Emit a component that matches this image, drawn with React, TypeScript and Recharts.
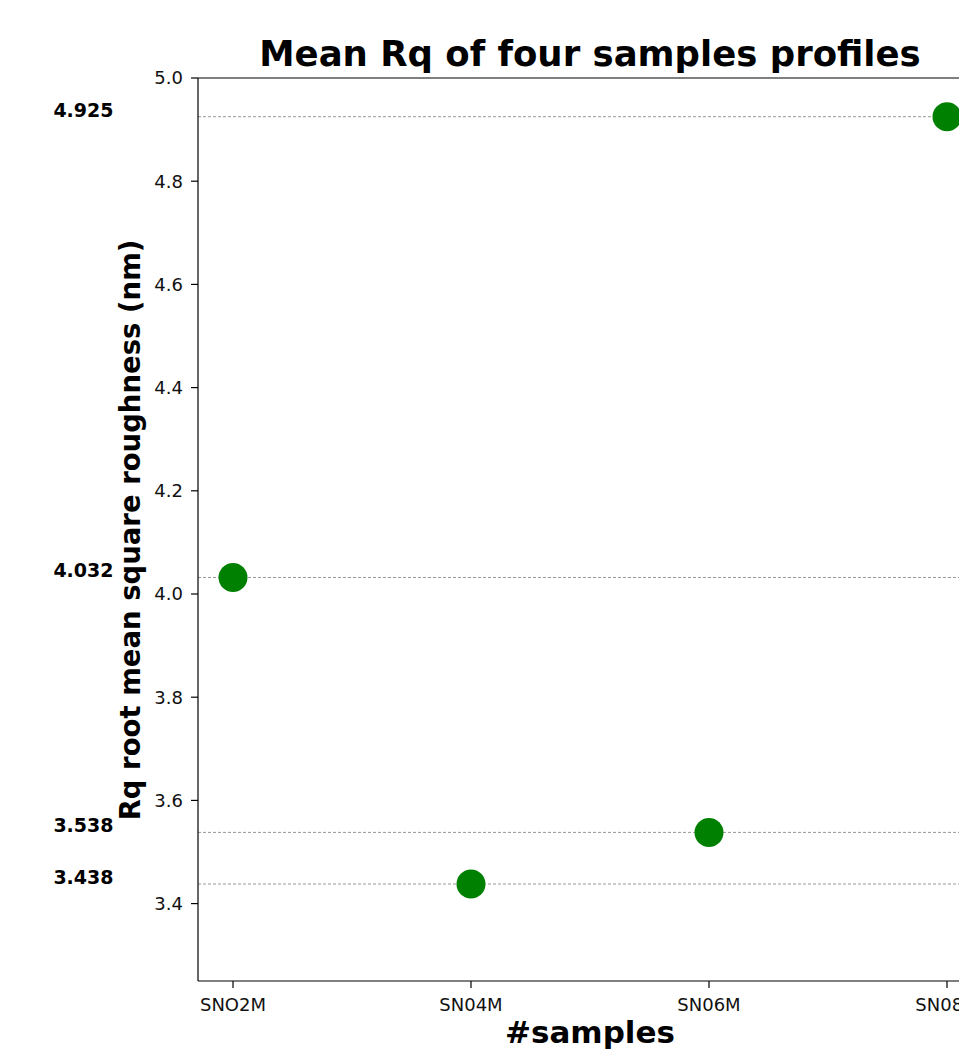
import { LineChart, Line, XAxis, YAxis, ReferenceLine } from "recharts";

const categories = ["SNO2M", "SN04M", "SN06M", "SN08M"];
const meanRq = [4.032, 3.438, 3.538, 4.925];
const yTicks = [3.4, 3.6, 3.8, 4.0, 4.2, 4.4, 4.6, 4.8, 5.0];
const yDomain = [3.25, 5.0];

const title = "Mean Rq of four samples profiles";
const xTitle = "#samples";
const yTitle = "Rq root mean square roughness (nm)";

const font = "'DejaVu Sans', sans-serif";

const data = categories.map((name, i) => ({ name, rq: meanRq[i] }));

export default function App() {
  return (
    <div
      style={{
        position: "fixed",
        left: 0,
        top: 0,
        width: 959,
        height: 1053,
        overflow: "hidden",
        background: "#fff",
        fontFamily: font,
      }}
    >
      <LineChart
        width={1000}
        height={1053}
        data={data}
        margin={{ top: 78, right: 18, bottom: 32, left: 118 }}
      >
        <XAxis
          dataKey="name"
          scale="point"
          padding={{ left: 35, right: 35 }}
          height={40}
          interval={0}
          tickSize={7}
          tickMargin={10}
          tick={{ fontSize: 18, fill: "#111", fontFamily: font }}
          axisLine={{ stroke: "#000", strokeWidth: 1.2 }}
          tickLine={{ stroke: "#000", strokeWidth: 1.2 }}
        />
        <YAxis
          type="number"
          width={80}
          domain={yDomain}
          ticks={yTicks}
          allowDataOverflow
          tickFormatter={(v: number) => v.toFixed(1)}
          tickSize={7}
          tickMargin={8}
          tick={{ fontSize: 18, fill: "#111", fontFamily: font }}
          axisLine={{ stroke: "#000", strokeWidth: 1.2 }}
          tickLine={{ stroke: "#000", strokeWidth: 1.2 }}
        />
        <Line
          dataKey="rq"
          stroke="none"
          dot={{ r: 14.5, fill: "#008000", stroke: "none" }}
          activeDot={false}
          isAnimationActive={false}
        />
        {meanRq.map((v) => (
          <ReferenceLine
            key={v}
            y={v}
            stroke="#999"
            strokeWidth={1}
            strokeDasharray="3 2"
            label={(props: any) => (
              <text
                x={props.viewBox.x - 84.5}
                y={props.viewBox.y}
                textAnchor="end"
                fontSize={19}
                fontWeight="bold"
                fontFamily={font}
                fill="#000"
              >
                {v.toFixed(3)}
              </text>
            )}
          />
        ))}
        <ReferenceLine y={5} stroke="#000" strokeWidth={1.2} />
      </LineChart>
      <svg
        width={959}
        height={1053}
        style={{ position: "absolute", left: 0, top: 0, pointerEvents: "none" }}
      >
        <text x={590} y={66} textAnchor="middle" fontSize={35.5} fontWeight="bold" fontFamily={font}>
          {title}
        </text>
        <text x={590} y={1043} textAnchor="middle" fontSize={31} fontWeight="bold" fontFamily={font}>
          {xTitle}
        </text>
        <text
          x={140}
          y={530}
          transform="rotate(-90, 140, 530)"
          textAnchor="middle"
          fontSize={27.5}
          fontWeight="bold"
          fontFamily={font}
        >
          {yTitle}
        </text>
      </svg>
    </div>
  );
}
